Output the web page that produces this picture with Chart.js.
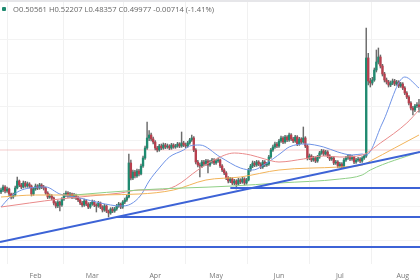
<!DOCTYPE html>
<html><head><meta charset="utf-8">
<script src="https://cdn.jsdelivr.net/npm/chart.js@4"></script>
<style>
html,body{margin:0;padding:0;background:#fff;}
#wrap{position:relative;width:420px;height:280px;overflow:hidden;}
#band{position:absolute;left:0;top:0;width:420px;height:2px;background:#e6e6e9;}
#ohlc{position:absolute;left:13px;top:4px;font:7.6px "Open Sans",sans-serif;color:#666;white-space:nowrap;letter-spacing:0;}
#dot{position:absolute;left:2px;top:7px;width:4px;height:4px;background:#1f8a70;border-radius:1px;}
canvas{position:absolute;left:0;top:0;}
</style></head>
<body>
<div id="wrap">
<canvas id="c" width="420" height="280"></canvas>
<div id="band"></div>
<div id="dot"></div>
<div id="ohlc">O0.50561 H0.52207 L0.48357 C0.49977 -0.00714 (-1.41%)</div>
</div>
<script>
// Daily candles, index 0 = 15 Jan, last index 206 = 9 Aug
const opens = [
0.244,0.250,0.259,0.247,0.253,0.238,0.229,0.235,0.256,0.277,
0.265,0.259,0.271,0.262,0.268,0.262,0.238,0.253,0.262,0.256,
0.265,0.259,0.256,0.241,0.229,0.232,0.226,0.211,0.202,0.214,
0.205,0.223,0.235,0.241,0.232,0.238,0.229,0.235,0.226,0.220,
0.211,0.205,0.217,0.208,0.199,0.208,0.214,0.205,0.202,0.211,
0.199,0.190,0.202,0.187,0.181,0.193,0.187,0.193,0.202,0.208,
0.199,0.214,0.220,0.229,0.331,0.286,0.304,0.292,0.307,0.298,
0.322,0.346,0.376,0.406,0.415,0.403,0.394,0.376,0.370,0.382,
0.376,0.385,0.379,0.382,0.376,0.385,0.379,0.382,0.388,0.382,
0.391,0.385,0.382,0.391,0.400,0.406,0.370,0.334,0.325,0.322,
0.334,0.328,0.337,0.325,0.334,0.340,0.331,0.337,0.340,0.322,
0.310,0.301,0.286,0.277,0.283,0.271,0.277,0.268,0.280,0.274,
0.283,0.271,0.280,0.310,0.322,0.331,0.325,0.334,0.328,0.319,
0.334,0.325,0.328,0.349,0.370,0.379,0.388,0.382,0.397,0.406,
0.394,0.409,0.400,0.415,0.403,0.397,0.409,0.388,0.403,0.394,
0.406,0.382,0.346,0.352,0.340,0.346,0.337,0.349,0.361,0.367,
0.358,0.364,0.352,0.343,0.346,0.331,0.334,0.322,0.328,0.319,
0.340,0.346,0.352,0.343,0.349,0.334,0.340,0.343,0.337,0.346,
0.352,0.646,0.577,0.571,0.580,0.610,0.634,0.649,0.622,0.598,
0.580,0.574,0.565,0.571,0.577,0.568,0.574,0.562,0.568,0.556,
0.541,0.529,0.511,0.496,0.490,0.502,0.50561];
const highs = [
0.256,0.265,0.263,0.259,0.256,0.241,0.241,0.262,0.289,0.280,
0.270,0.277,0.276,0.274,0.272,0.265,0.257,0.268,0.266,0.270,
0.269,0.264,0.259,0.245,0.238,0.236,0.229,0.215,0.218,0.217,
0.227,0.240,0.247,0.245,0.243,0.241,0.240,0.238,0.231,0.224,
0.216,0.223,0.221,0.212,0.213,0.220,0.218,0.209,0.216,0.214,
0.203,0.207,0.205,0.190,0.197,0.198,0.198,0.207,0.213,0.211,
0.218,0.226,0.234,0.358,0.340,0.310,0.309,0.313,0.312,0.328,
0.352,0.382,0.454,0.428,0.421,0.409,0.398,0.381,0.387,0.388,
0.391,0.390,0.388,0.386,0.390,0.389,0.387,0.393,0.392,0.424,
0.396,0.391,0.396,0.405,0.415,0.410,0.374,0.339,0.331,0.339,
0.339,0.342,0.341,0.339,0.345,0.344,0.342,0.346,0.343,0.326,
0.314,0.305,0.290,0.288,0.287,0.282,0.281,0.285,0.284,0.288,
0.287,0.285,0.315,0.327,0.337,0.336,0.339,0.338,0.332,0.339,
0.338,0.333,0.354,0.375,0.385,0.394,0.393,0.402,0.412,0.410,
0.414,0.413,0.421,0.419,0.408,0.414,0.413,0.408,0.407,0.439,
0.410,0.386,0.358,0.356,0.351,0.350,0.354,0.366,0.372,0.371,
0.369,0.368,0.356,0.351,0.350,0.339,0.338,0.333,0.332,0.345,
0.351,0.357,0.356,0.354,0.352,0.345,0.348,0.347,0.350,0.357,
0.736,0.660,0.585,0.588,0.616,0.670,0.676,0.655,0.627,0.603,
0.586,0.579,0.577,0.583,0.582,0.579,0.578,0.573,0.572,0.560,
0.545,0.533,0.515,0.501,0.507,0.512,0.52207];
const lows = [
0.239,0.245,0.241,0.243,0.232,0.223,0.225,0.232,0.253,0.260,
0.254,0.256,0.258,0.258,0.256,0.232,0.234,0.249,0.251,0.252,
0.254,0.250,0.237,0.224,0.225,0.220,0.205,0.196,0.197,0.187,
0.201,0.219,0.230,0.228,0.228,0.224,0.225,0.221,0.215,0.206,
0.199,0.201,0.203,0.194,0.195,0.204,0.200,0.184,0.198,0.194,
0.184,0.186,0.182,0.169,0.177,0.182,0.183,0.189,0.198,0.194,
0.195,0.209,0.216,0.226,0.280,0.281,0.286,0.288,0.292,0.295,
0.318,0.342,0.372,0.398,0.397,0.388,0.370,0.364,0.366,0.371,
0.372,0.374,0.375,0.371,0.372,0.375,0.375,0.378,0.377,0.378,
0.380,0.377,0.378,0.387,0.396,0.365,0.328,0.319,0.289,0.317,
0.322,0.324,0.301,0.321,0.330,0.326,0.327,0.333,0.317,0.305,
0.296,0.281,0.271,0.272,0.266,0.266,0.253,0.264,0.269,0.270,
0.265,0.267,0.277,0.306,0.317,0.320,0.321,0.323,0.314,0.315,
0.320,0.321,0.324,0.345,0.366,0.375,0.377,0.378,0.393,0.389,
0.390,0.395,0.396,0.398,0.392,0.393,0.383,0.384,0.389,0.390,
0.377,0.340,0.341,0.335,0.336,0.332,0.333,0.345,0.357,0.353,
0.354,0.347,0.338,0.339,0.326,0.327,0.317,0.318,0.314,0.316,
0.336,0.342,0.338,0.339,0.329,0.330,0.336,0.332,0.333,0.342,
0.348,0.565,0.559,0.565,0.576,0.604,0.628,0.616,0.592,0.574,
0.568,0.559,0.560,0.566,0.563,0.564,0.557,0.558,0.551,0.536,
0.524,0.505,0.490,0.475,0.485,0.497,0.48357];
const closes = [
0.250,0.259,0.247,0.253,0.238,0.229,0.235,0.256,0.277,0.265,
0.259,0.271,0.262,0.268,0.262,0.238,0.253,0.262,0.256,0.265,
0.259,0.256,0.241,0.229,0.232,0.226,0.211,0.202,0.214,0.205,
0.223,0.235,0.241,0.232,0.238,0.229,0.235,0.226,0.220,0.211,
0.205,0.217,0.208,0.199,0.208,0.214,0.205,0.202,0.211,0.199,
0.190,0.202,0.187,0.181,0.193,0.187,0.193,0.202,0.208,0.199,
0.214,0.220,0.229,0.331,0.286,0.304,0.292,0.307,0.298,0.322,
0.346,0.376,0.406,0.415,0.403,0.394,0.376,0.370,0.382,0.376,
0.385,0.379,0.382,0.376,0.385,0.379,0.382,0.388,0.382,0.391,
0.385,0.382,0.391,0.400,0.406,0.370,0.334,0.325,0.322,0.334,
0.328,0.337,0.325,0.334,0.340,0.331,0.337,0.340,0.322,0.310,
0.301,0.286,0.277,0.283,0.271,0.277,0.268,0.280,0.274,0.283,
0.271,0.280,0.310,0.322,0.331,0.325,0.334,0.328,0.319,0.334,
0.325,0.328,0.349,0.370,0.379,0.388,0.382,0.397,0.406,0.394,
0.409,0.400,0.415,0.403,0.397,0.409,0.388,0.403,0.394,0.406,
0.382,0.346,0.352,0.340,0.346,0.337,0.349,0.361,0.367,0.358,
0.364,0.352,0.343,0.346,0.331,0.334,0.322,0.328,0.319,0.340,
0.346,0.352,0.343,0.349,0.334,0.340,0.343,0.337,0.346,0.352,
0.646,0.577,0.571,0.580,0.610,0.634,0.649,0.622,0.598,0.580,
0.574,0.565,0.571,0.577,0.568,0.574,0.562,0.568,0.556,0.541,
0.529,0.511,0.496,0.490,0.502,0.50561,0.49977];

// Month tick positions (day index) and labels
const monthTickDays = [17,45,76,106,137,167,198];
const monthLabels = ['Feb','Mar','Apr','May','Jun','Jul','Aug'];

// Moving averages (day index, value)
const maBlueDays = [0,4,9,14,22,29,39,49,59,64,69,73,78,83,90,93,98,108,118,124,131,138,142,150,159,166,173,178,180,188,199,206];
const maBlueVals = [0.199,0.226,0.247,0.256,0.259,0.238,0.226,0.211,0.202,0.208,0.235,0.277,0.316,0.349,0.370,0.382,0.385,0.349,0.316,0.310,0.331,0.361,0.379,0.388,0.379,0.364,0.355,0.358,0.355,0.451,0.589,0.556];
const maRedDays = [0,14,29,44,59,68,78,86,97,105,115,123,130,137,149,159,167,178,187,200,206];
const maRedVals = [0.199,0.211,0.223,0.232,0.241,0.250,0.250,0.262,0.310,0.340,0.361,0.355,0.343,0.334,0.343,0.352,0.349,0.355,0.391,0.451,0.490];
const maOrangeDays = [0,17,34,68,85,101,118,137,167,178,182,194,206];
const maOrangeVals = [0.229,0.235,0.235,0.238,0.250,0.280,0.289,0.310,0.319,0.325,0.337,0.376,0.415];
const maGreenDays = [36,68,114,137,167,178,182,206];
const maGreenVals = [0.235,0.250,0.262,0.271,0.283,0.295,0.310,0.364];

// Drawn trend line and horizontal levels
const trendDays = [-0.5,206.5];
const trendVals = [0.094,0.364];
const levelVals = [0.256,0.169,0.079];
const levelStartDays = [113,57,-0.5];
const refLevel = 0.370;

const UP = '#1f8a70', DN = '#b83f4e';
const pts = (xs, ys) => xs.map((x,i)=>({x:x, y:ys[i]}));
const idx = closes.map((c,i)=>i);

const datasets = [];
datasets.push({type:'line', data:[{x:-0.5,y:refLevel},{x:206.5,y:refLevel}], borderColor:'rgba(235,160,160,0.55)', borderWidth:1, pointRadius:0, order:10});
datasets.push({type:'bar', data: idx.map(i=>({x:i, y:[lows[i], highs[i]]})), backgroundColor:'#6b6b6b', barThickness:0.8, grouped:false, order:6});
datasets.push({type:'bar', data: idx.map(i=>({x:i, y:[opens[i], closes[i]]})), backgroundColor: idx.map(i=> closes[i]>=opens[i]?UP:DN), borderColor:'#2b2b2b', borderWidth:0, barThickness:1.7, minBarLength:1, grouped:false, order:5});
const ma = (d,v,c)=>({type:'line', data:pts(d,v), borderColor:c, borderWidth:1, pointRadius:0, cubicInterpolationMode:'monotone', order:3});
datasets.push(ma(maGreenDays, maGreenVals, '#8fcf86'));
datasets.push(ma(maOrangeDays, maOrangeVals, '#f2b45a'));
datasets.push(ma(maRedDays, maRedVals, '#e98a8a'));
datasets.push(ma(maBlueDays, maBlueVals, '#6f93e6'));
datasets.push({type:'line', data:pts(trendDays, trendVals), borderColor:'#3d63d6', borderWidth:2, pointRadius:0, order:1});
levelVals.forEach((v,k)=>{
  datasets.push({type:'line', data:[{x:levelStartDays[k],y:v},{x:206.5,y:v}], borderColor:'#3d63d6', borderWidth:2, pointRadius:0, order:1});
});

new Chart(document.getElementById('c'), {
  type:'bar',
  data:{datasets:datasets},
  options:{
    responsive:false, animation:false, devicePixelRatio:1,
    layout:{padding:0},
    plugins:{legend:{display:false}, tooltip:{enabled:false}, title:{display:false}},
    scales:{
      x:{type:'linear', min:-0.5, max:206.5, offset:false,
         afterBuildTicks:(ax)=>{ ax.ticks = monthTickDays.map(v=>({value:v})); },
         afterFit:(s)=>{ s.height = 16; },
         ticks:{autoSkip:false, maxRotation:0, padding:8, color:'#777', font:{size:7, family:'"Open Sans", sans-serif'},
           callback:(v)=>{ const k = monthTickDays.indexOf(v); return k>=0?monthLabels[k]:''; }},
         grid:{color:'#f1f1f1', drawTicks:false}, border:{display:false}},
      y:{type:'linear', min:0.028, max:0.82,
         afterFit:(s)=>{ s.width = 0; },
         afterBuildTicks:(ax)=>{ ax.ticks = [0.1,0.2,0.3,0.4,0.5,0.6,0.7].map(v=>({value:v})); },
         ticks:{display:false}, grid:{color:'#f3f3f3', drawTicks:false}, border:{display:false}}
    }
  }
});
</script>
</body></html>
